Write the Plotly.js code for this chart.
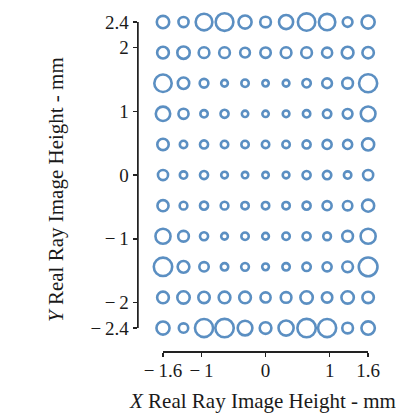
<!DOCTYPE html>
<html>
<head>
<meta charset="utf-8">
<script src="https://cdn.plot.ly/plotly-3.0.1.min.js"></script>
<style>html,body{margin:0;padding:0;background:#fff;}#chart{width:399px;height:414px;}</style>
</head>
<body>
<div id="chart"></div>
<script>
// Field positions (mm)
var xField = [-1.6, -1.28, -0.96, -0.64, -0.32, 0, 0.32, 0.64, 0.96, 1.28, 1.6];
var yField = [2.4, 1.92, 1.44, 0.96, 0.48, 0, -0.48, -0.96, -1.44, -1.92, -2.4];
// Spot diameters (relative, px) per row, top to bottom
var rowY240  = [15, 12.7, 19.3, 20.3, 15.7, 13.3, 16.7, 20, 19, 12.3, 15.7];
var rowY192  = [14.3, 15, 13.3, 13.3, 12.3, 13, 13.3, 13.3, 12.7, 14.3, 14];
var rowY144  = [20, 14, 11.3, 9.3, 10, 9, 9.3, 11, 12.3, 13.3, 20.7];
var rowY096  = [17, 12.7, 10, 10.7, 9, 9, 9.3, 10, 11, 12.3, 17.3];
var rowY048  = [14, 10, 10.7, 10, 10, 10, 10, 10.7, 11.7, 11.7, 14.7];
var rowY000  = [12.7, 10, 10.7, 9.3, 9, 9, 9.3, 10.7, 11, 10, 12.7];
var rowYm048 = [13.7, 10.3, 10.7, 10.3, 10, 10, 10, 10.7, 11.7, 12, 14.7];
var rowYm096 = [17.7, 13.3, 10.7, 9.3, 10, 9.3, 10, 10.7, 10.3, 13.3, 17.7];
var rowYm144 = [21, 14.3, 12, 10, 10.3, 9.3, 10, 11, 11.7, 13.3, 21.3];
var rowYm192 = [14.3, 15, 14, 14.3, 14.3, 12.7, 13.3, 15, 13, 15, 14];
var rowYm240 = [15.7, 12, 20.7, 21, 17.3, 14.3, 17.7, 21, 20.7, 13.3, 16];
var xTickVals = [-1.6, -1, 0, 1, 1.6];
var xTickText = ['\u2212\u20091.6', '\u2212\u20091', '0', '1', '1.6'];
var yTickVals = [2.4, 2, 1, 0, -1, -2, -2.4];
var yTickText = ['2.4', '2', '1', '0', '\u2212\u20091', '\u2212\u20092', '\u2212\u20092.4'];

var rows = [rowY240, rowY192, rowY144, rowY096, rowY048, rowY000, rowYm048, rowYm096, rowYm144, rowYm192, rowYm240];
var lw = 2.6;
var px = [], py = [], ps = [];
rows.forEach(function (r, i) {
  r.forEach(function (d, j) {
    px.push(xField[j]); py.push(yField[i]); ps.push(d - lw);
  });
});

var xRange = [-1.99, 1.91];
var yRange = [-2.76, 2.62];
var yMin = yTickVals[yTickVals.length - 1], yMax = yTickVals[0];
var xMin = xTickVals[0], xMax = xTickVals[xTickVals.length - 1];
var xd = [(xMin - xRange[0]) / (xRange[1] - xRange[0]), (xMax - xRange[0]) / (xRange[1] - xRange[0])];
var yd = [(yMin - yRange[0]) / (yRange[1] - yRange[0]), (yMax - yRange[0]) / (yRange[1] - yRange[0])];

var fam = 'Liberation Serif, Times New Roman, serif';
var tickFont = {family: fam, size: 19, color: '#1a1a1a'};
var titleFont = {family: fam, size: 21, color: '#1a1a1a'};
var hidden = {showgrid: false, zeroline: false, showline: false, ticks: '', showticklabels: false};
var shown = {showline: true, linecolor: '#222', linewidth: 1.5, showgrid: false, zeroline: false,
  ticks: 'outside', ticklen: 4, tickwidth: 1.5, tickcolor: '#222', tickfont: tickFont};

var traces = [
  {x: [xMin, xMax], y: [0, 0], xaxis: 'x2', yaxis: 'y2',
   type: 'scatter', mode: 'markers', marker: {opacity: 0}, hoverinfo: 'skip'},
  // vertical axis spine along the y tick span, drawn at the left edge of the x range
  {x: [xRange[0], xRange[0]], y: [yMin, yMax], xaxis: 'x', yaxis: 'y', type: 'scatter', mode: 'lines',
   line: {color: '#222', width: 1.5}, cliponaxis: false, hoverinfo: 'skip'},
  {x: px, y: py, xaxis: 'x', yaxis: 'y', type: 'scatter', mode: 'markers', hoverinfo: 'skip', cliponaxis: false,
   marker: {symbol: 'circle-open', size: ps, color: '#1560a8', line: {width: lw, color: '#1560a8'}}}
];

var layout = {
  width: 399, height: 414,
  margin: {l: 138, r: 11, t: 8, b: 63},
  showlegend: false,
  paper_bgcolor: '#fff', plot_bgcolor: 'rgba(0,0,0,0)',
  font: tickFont,
  xaxis: Object.assign({range: xRange, domain: [0, 1], anchor: 'y'}, hidden),
  yaxis: Object.assign({domain: yd, range: [yMin, yMax], anchor: 'x',
    tickvals: yTickVals, ticktext: yTickText, ticksuffix: '\u2009\u2009\u2009'}, shown),
  yaxis2: Object.assign({range: yRange, domain: [0, 1], anchor: 'x2'}, hidden),
  xaxis2: Object.assign({domain: xd, range: [xMin, xMax], anchor: 'y2',
    tickvals: xTickVals, ticktext: xTickText, ticklabelstandoff: -2}, shown),
  annotations: [
    {text: '<i>X</i> Real Ray Image Height - mm', xref: 'paper', yref: 'paper',
     x: (262 - 138) / 250, y: -(401 - 351) / 343, xanchor: 'center', yanchor: 'middle',
     showarrow: false, font: titleFont},
    {text: '<i>Y</i> Real Ray Image Height - mm', xref: 'paper', yref: 'paper',
     x: -(138 - 56) / 250, y: (351 - 190) / 343, xanchor: 'center', yanchor: 'middle',
     textangle: -90, showarrow: false, font: titleFont}
  ]
};

Plotly.newPlot('chart', traces, layout, {staticPlot: true, displayModeBar: false});
</script>
</body>
</html>
